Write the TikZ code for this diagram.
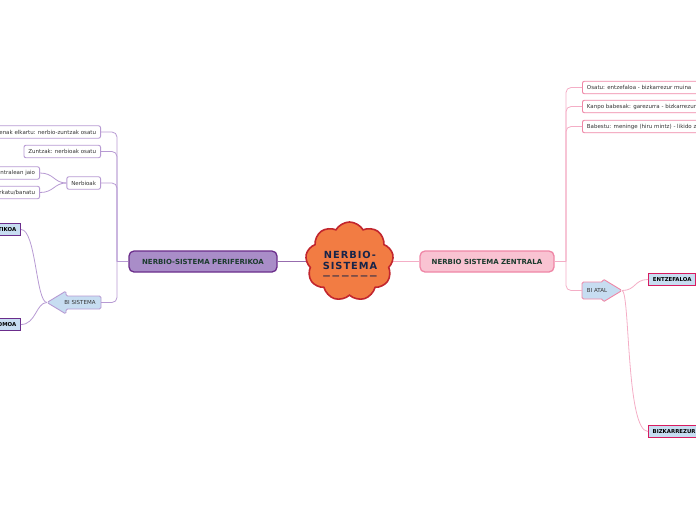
\documentclass[tikz,border=0pt]{standalone}
\usepackage{fontspec}
\setmainfont{DejaVu Sans}
\newfontfamily\cloudfont{DejaVu Sans}[LetterSpace=10]
\newfontfamily\dashfont{DejaVu Sans}[LetterSpace=25]
\usetikzlibrary{shapes.symbols}
\definecolor{lavfill}{HTML}{A98DC8}
\definecolor{purpdark}{HTML}{6B2D8B}
\definecolor{lavline}{HTML}{B79AD3}
\definecolor{pinkfill}{HTML}{F9C3D2}
\definecolor{pinkline}{HTML}{EF86A6}
\definecolor{pinkcon}{HTML}{F4AEC6}
\definecolor{bluefill}{HTML}{C7DDF1}
\definecolor{crimson}{HTML}{D81B60}
\definecolor{cloudfill}{HTML}{F27C43}
\definecolor{cloudline}{HTML}{C2262E}
\definecolor{cloudtext}{HTML}{16244A}
\definecolor{maintext}{HTML}{1C3B2E}
\definecolor{childtext}{HTML}{333333}
\tikzset{
  mainbox/.style={rounded corners=5pt, line width=1.3pt, minimum height=21pt, inner xsep=10pt, inner ysep=0pt,
    font=\fontsize{7}{8}\selectfont\bfseries, text=maintext},
  lchild/.style={rounded corners=2pt, draw=lavline, line width=0.9pt, fill=white, minimum height=12.5pt,
    inner xsep=4.5pt, inner ysep=0pt, font=\fontsize{5.5}{6.5}\selectfont, text=childtext},
  rchild/.style={lchild, draw=pinkline},
  bluebox/.style={draw, fill=bluefill, line width=1.4pt, minimum height=12.5pt, inner xsep=4pt, inner ysep=0pt,
    font=\fontsize{5.4}{6.5}\selectfont\bfseries, text=black},
  lcon/.style={draw=lavline, line width=0.8pt},
  rcon/.style={draw=pinkcon, line width=0.8pt},
}
\begin{document}
\begin{tikzpicture}[x=1pt,y=-1pt]
\useasboundingbox (0,0) rectangle (696,520);
\clip (0,0) rectangle (696,520);

% main nodes
\node[mainbox, draw=purpdark, fill=lavfill, minimum width=148pt] (lm) at (203,261.5) {NERBIO-SISTEMA PERIFERIKOA};
\node[mainbox, draw=pinkline, fill=pinkfill, minimum width=134pt] (rm) at (487,261.5) {NERBIO SISTEMA ZENTRALA};

% connectors to cloud
\draw[draw=purpdark!70, line width=0.8pt] (lm.east) -- (310,261.5);
\draw[rcon] (rm.west) -- (390,261.5);

% cloud
\node[cloud, cloud puffs=9, cloud puff arc=120, aspect=1.15, draw=cloudline, fill=cloudfill, line width=1.6pt,
  minimum width=88pt, minimum height=79pt, inner sep=0pt] (cl) at (349.5,261.5) {};
\node[align=center, text=cloudtext, inner sep=0pt, font=\fontsize{9.8}{10.8}\cloudfont\bfseries] (clt) at (350,265)
  {NERBIO-\\SISTEMA\\[-1pt]{\fontsize{7.5}{8}\dashfont\bfseries ——————}};

% left children
\node[lchild, anchor=east] (a) at (101,132) {\hspace*{40pt}enak elkartu: nerbio-zuntzak osatu};
\node[lchild, anchor=east] (b) at (101,151.5) {Zuntzak: nerbioak osatu};
\node[lchild, anchor=east] (c) at (101,183) {Nerbioak};
\node[lchild, anchor=east] (d) at (40,173) {\hspace*{40pt}ntralean jaio};
\node[lchild, anchor=east] (e) at (40,192.5) {\hspace*{40pt}rkatu/banatu};
\node[bluebox, draw=purpdark, anchor=east] (f) at (21,229.5) {\hspace*{40pt}TIKOA};
\node[bluebox, draw=purpdark, anchor=east] (g) at (21,324.5) {\hspace*{40pt}OMOA};

% BI SISTEMA arrow
\coordinate (bstip) at (47,302.5);
\coordinate (bsend) at (101,302.5);
\draw[draw=lavline, fill=bluefill, line width=0.9pt, rounded corners=1.5pt]
  (bstip) -- (66,291) -- (66,296) -- (101,296) -- (101,309) -- (66,309) -- (66,314) -- cycle;
\node[font=\fontsize{5.5}{6.5}\selectfont, text=childtext, inner sep=0pt] (bs) at (80,302.5) {BI SISTEMA};

% left trunk
\draw[lcon] (lm.west) -- (117,261.5) coordinate (lj);
\draw[lcon, rounded corners=5pt] (lj) |- (a.east);
\draw[lcon, rounded corners=5pt] (lj) |- (b.east);
\draw[lcon, rounded corners=5pt] (lj) |- (c.east);
\draw[lcon, rounded corners=5pt] (lj) |- (bsend);
\draw[lcon] (c.west) .. controls (54,183) and (54,173) .. (d.east);
\draw[lcon] (c.west) .. controls (54,183) and (54,192.5) .. (e.east);
\draw[lcon] (bstip) .. controls (36,302.5) and (36,229.5) .. (f.east);
\draw[lcon] (bstip) .. controls (36,302.5) and (36,324.5) .. (g.east);

% right children
\node[rchild, anchor=west] (h) at (582,87.5) {Osatu: entzefaloa - bizkarrezur muina\hspace*{40pt}};
\node[rchild, anchor=west] (i) at (582,106.5) {Kanpo babesak: garezurra - bizkarrezur\hspace*{40pt}};
\node[rchild, anchor=west] (j) at (582,126.5) {Babestu: meninge (hiru mintz) - likido z\hspace*{40pt}};
\node[bluebox, draw=crimson, anchor=west, minimum width=47pt] (k) at (648,279.5) {ENTZEFALOA};
\node[bluebox, draw=crimson, anchor=west] (l) at (648,431.5) {BIZKARREZUR\hspace*{40pt}};

% BI ATAL arrow
\coordinate (batip) at (622,290.5);
\coordinate (baend) at (582,290.5);
\draw[draw=pinkline, fill=bluefill, line width=0.9pt, rounded corners=1.5pt]
  (batip) -- (603,279) -- (603,282) -- (582,282) -- (582,299) -- (603,299) -- (603,302) -- cycle;
\node[font=\fontsize{5.5}{6.5}\selectfont, text=childtext, inner sep=0pt] (ba) at (597,290.5) {BI ATAL};

% right trunk
\draw[rcon] (rm.east) -- (566,261.5) coordinate (rj);
\draw[rcon, rounded corners=5pt] (rj) |- (h.west);
\draw[rcon, rounded corners=5pt] (rj) |- (i.west);
\draw[rcon, rounded corners=5pt] (rj) |- (j.west);
\draw[rcon, rounded corners=5pt] (rj) |- (baend);
\draw[rcon] (batip) .. controls (636,290.5) and (634,279.5) .. (k.west);
\draw[rcon] (batip) .. controls (630,290.5) and (626,431.5) .. (l.west);
\end{tikzpicture}
\end{document}
